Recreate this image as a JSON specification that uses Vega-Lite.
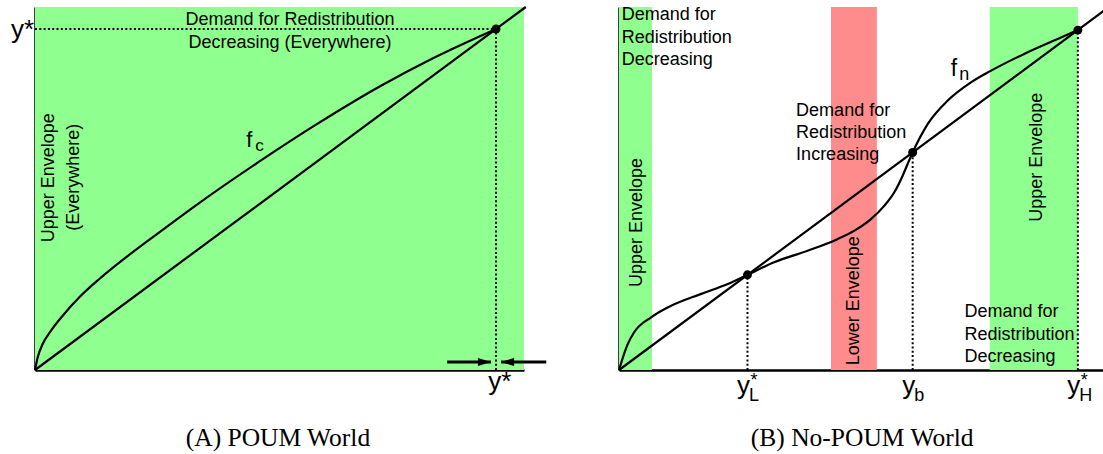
{
  "$schema": "https://vega.github.io/schema/vega-lite/v6.json",
  "background": "white",
  "autosize": {"type": "pad"},
  "padding": {"left": 10, "top": 2, "right": 0, "bottom": 0},
  "bounds": "flush",
  "spacing": 95,
  "config": {
    "view": {"stroke": null},
    "font": "Liberation Sans",
    "axis": {"labels": false, "ticks": false, "grid": false, "domainColor": "black", "domainWidth": 2.5, "zindex": 1}
  },
  "datasets": {
    "bandA": [{"x": 0, "x2": 106.07, "y": 0, "y2": 106.45}],
    "diagA": [{"x": 0, "y": 0}, {"x": 106.45, "y": 106.45}],
    "curveA": [
      {"x": 0, "y": 0}, {"x": 0.59, "y": 3.72}, {"x": 1.67, "y": 7.62}, {"x": 3.47, "y": 11.52},
      {"x": 6.01, "y": 15.92}, {"x": 9.61, "y": 21.32}, {"x": 13.95, "y": 26.69}, {"x": 19.74, "y": 33.05},
      {"x": 26.96, "y": 40.38}, {"x": 34.92, "y": 48.3}, {"x": 49.67, "y": 62.05}, {"x": 60.52, "y": 71.58},
      {"x": 75.05, "y": 83.37}, {"x": 85.9, "y": 91.14}, {"x": 96.75, "y": 98.03}, {"x": 100, "y": 100}
    ],
    "guideA": [{"x": 0, "x2": 100, "y": 100, "y2": 100}, {"x": 100, "x2": 100, "y": 0, "y2": 100}],
    "eqA": [{"x": 100, "y": 100}],
    "arrowsA": [
      {"x": 89.4, "tip": 98.9, "y": 2.35, "dir": "right"},
      {"x": 110.9, "tip": 101.1, "y": 2.35, "dir": "left"}
    ],
    "headA": [{"x": 55.3, "y": 101.2, "label": "Demand for Redistribution\nDecreasing (Everywhere)"}],
    "vertA": [{"x": 4.2, "y": 56.4, "label": "Upper Envelope"}, {"x": 9.5, "y": 56.5, "label": "(Everywhere)"}],
    "fA": [{"x": 45.8, "y": 65.3, "label": "f", "sub": "c"}],
    "ystarLeftA": [{"x": 0, "y": 100, "label": "y*"}],
    "ystarBottomA": [{"x": 100, "y": 0, "label": "y*"}],
    "capA": [{"x": 52.7, "y": 0, "label": "(A) POUM World"}],
    "bandB": [
      {"x": 0, "x2": 7.2, "y": 0, "y2": 106.8, "kind": "upper"},
      {"x": 46.2, "x2": 56.2, "y": 0, "y2": 106.8, "kind": "lower"},
      {"x": 80.8, "x2": 100, "y": 0, "y2": 106.8, "kind": "upper"}
    ],
    "diagB": [{"x": 0, "y": 0}, {"x": 105.7, "y": 105.7}],
    "curveB": [
      {"x": 0, "y": 0}, {"x": 1.9, "y": 7.6}, {"x": 3.3, "y": 11.1}, {"x": 7.0, "y": 15.5},
      {"x": 10.6, "y": 18.4}, {"x": 17.9, "y": 22.4}, {"x": 23.7, "y": 25.3}, {"x": 28, "y": 28},
      {"x": 33.8, "y": 31.7}, {"x": 41.1, "y": 35.1}, {"x": 47.6, "y": 38.5}, {"x": 51.3, "y": 41.0},
      {"x": 54.9, "y": 44.4}, {"x": 57.8, "y": 48.3}, {"x": 60.0, "y": 52.3}, {"x": 61.8, "y": 57.1},
      {"x": 62.9, "y": 60.6}, {"x": 64, "y": 64}, {"x": 67.3, "y": 72.4}, {"x": 71.6, "y": 79.2},
      {"x": 76.7, "y": 84.6}, {"x": 81.0, "y": 88.0}, {"x": 88.3, "y": 93.0}, {"x": 95.6, "y": 97.4},
      {"x": 100, "y": 100}
    ],
    "guideB": [
      {"x": 28, "x2": 28, "y": 0, "y2": 28},
      {"x": 64, "x2": 64, "y": 0, "y2": 64},
      {"x": 100, "x2": 100, "y": 0, "y2": 100}
    ],
    "eqB": [{"x": 28, "y": 28}, {"x": 64, "y": 64}, {"x": 100, "y": 100}],
    "blockB": [
      {"x": 0.6, "y": 102.9, "label": "Demand for\nRedistribution\nDecreasing"},
      {"x": 38.6, "y": 74.8, "label": "Demand for\nRedistribution\nIncreasing"},
      {"x": 75.3, "y": 15.5, "label": "Demand for\nRedistribution\nDecreasing"}
    ],
    "vertB": [
      {"x": 5.1, "y": 43.4, "label": "Upper Envelope"},
      {"x": 52.4, "y": 20.4, "label": "Lower Envelope"},
      {"x": 92.2, "y": 62.6, "label": "Upper Envelope"}
    ],
    "fB": [{"x": 72.3, "y": 86.6, "label": "f", "sub": "n"}],
    "ticksB": [
      {"x": 28, "y": 0, "main": "y", "sub": "L", "star": "*"},
      {"x": 64, "y": 0, "main": "y", "sub": "b", "star": ""},
      {"x": 100, "y": 0, "main": "y", "sub": "H", "star": "*"}
    ],
    "capB": [{"x": 53.0, "y": 0, "label": "(B) No-POUM World"}]
  },
  "hconcat": [
    {
      "width": 489,
      "height": 363,
      "encoding": {
        "x": {"field": "x", "type": "quantitative", "title": null, "scale": {"domain": [0, 106.07], "nice": false, "zero": false}},
        "y": {"field": "y", "type": "quantitative", "title": null, "scale": {"domain": [0, 106.45], "nice": false, "zero": false}}
      },
      "layer": [
        {"data": {"name": "bandA"}, "mark": {"type": "rect", "color": "#8fff8f"},
         "encoding": {"x2": {"field": "x2"}, "y2": {"field": "y2"}}},
        {"data": {"name": "guideA"}, "mark": {"type": "rule", "color": "black", "strokeWidth": 2, "strokeDash": [2, 2.3]},
         "encoding": {"x2": {"field": "x2"}, "y2": {"field": "y2"}}},
        {"data": {"name": "diagA"}, "mark": {"type": "line", "color": "black", "strokeWidth": 2.2, "clip": false}, "encoding": {}},
        {"data": {"name": "curveA"}, "mark": {"type": "line", "color": "black", "strokeWidth": 2.2, "interpolate": "monotone"}, "encoding": {}},
        {"data": {"name": "eqA"}, "mark": {"type": "point", "filled": true, "color": "black", "opacity": 1, "size": 80}},
        {"data": {"name": "arrowsA"}, "mark": {"type": "rule", "color": "black", "strokeWidth": 3},
         "encoding": {"x2": {"field": "tip"}}},
        {"data": {"name": "arrowsA"}, "mark": {"type": "point", "filled": true, "color": "black", "opacity": 1, "size": 169},
         "encoding": {
           "x": {"field": "tip", "type": "quantitative"},
           "shape": {"field": "dir", "type": "nominal", "legend": null,
                     "scale": {"domain": ["right", "left"], "range": ["M0,0L-2,-0.62L-2,0.62Z", "M0,0L2,-0.62L2,0.62Z"]}}
         }},
        {"data": {"name": "headA"}, "mark": {"type": "text", "fontSize": 18, "align": "center", "baseline": "alphabetic", "lineBreak": "\n", "lineHeight": 23, "color": "black"},
         "encoding": {"text": {"field": "label"}}},
        {"data": {"name": "vertA"}, "mark": {"type": "text", "fontSize": 18, "align": "center", "baseline": "alphabetic", "angle": 270, "color": "black"},
         "encoding": {"text": {"field": "label"}}},
        {"data": {"name": "fA"}, "mark": {"type": "text", "fontSize": 22, "align": "left", "baseline": "alphabetic", "color": "black"},
         "encoding": {"text": {"field": "label"}}},
        {"data": {"name": "fA"}, "mark": {"type": "text", "fontSize": 17, "align": "left", "baseline": "alphabetic", "dx": 9, "dy": 3.5, "color": "black"},
         "encoding": {"text": {"field": "sub"}}},
        {"data": {"name": "ystarLeftA"}, "mark": {"type": "text", "fontSize": 26, "align": "right", "baseline": "alphabetic", "dx": -1, "dy": 9.5, "color": "black"},
         "encoding": {"text": {"field": "label"}}},
        {"data": {"name": "ystarBottomA"}, "mark": {"type": "text", "fontSize": 26, "align": "center", "baseline": "alphabetic", "dx": 3.7, "dy": 20, "color": "black"},
         "encoding": {"text": {"field": "label"}}},
        {"data": {"name": "capA"}, "mark": {"type": "text", "font": "Liberation Serif", "fontSize": 25.5, "align": "center", "baseline": "alphabetic", "dy": 75.7, "color": "black"},
         "encoding": {"text": {"field": "label"}}}
      ]
    },
    {
      "width": 485,
      "height": 363,
      "encoding": {
        "x": {"field": "x", "type": "quantitative", "title": null, "scale": {"domain": [0, 105.7], "nice": false, "zero": false}},
        "y": {"field": "y", "type": "quantitative", "title": null, "scale": {"domain": [0, 106.8], "nice": false, "zero": false}}
      },
      "layer": [
        {"data": {"name": "bandB"}, "mark": {"type": "rect"},
         "encoding": {
           "x2": {"field": "x2"},
           "y2": {"field": "y2"},
           "color": {"field": "kind", "type": "nominal", "legend": null,
                     "scale": {"domain": ["upper", "lower"], "range": ["#8fff8f", "#ff8c8c"]}}
         }},
        {"data": {"name": "guideB"}, "mark": {"type": "rule", "color": "black", "strokeWidth": 2, "strokeDash": [2, 2.3]},
         "encoding": {"x2": {"field": "x2"}, "y2": {"field": "y2"}}},
        {"data": {"name": "diagB"}, "mark": {"type": "line", "color": "black", "strokeWidth": 2.2}, "encoding": {}},
        {"data": {"name": "curveB"}, "mark": {"type": "line", "color": "black", "strokeWidth": 2.2, "interpolate": "monotone"}, "encoding": {}},
        {"data": {"name": "eqB"}, "mark": {"type": "point", "filled": true, "color": "black", "opacity": 1, "size": 80}},
        {"data": {"name": "blockB"}, "mark": {"type": "text", "fontSize": 18, "align": "left", "baseline": "alphabetic", "lineBreak": "\n", "lineHeight": 22.3, "color": "black"},
         "encoding": {"text": {"field": "label"}}},
        {"data": {"name": "vertB"}, "mark": {"type": "text", "fontSize": 18, "align": "center", "baseline": "alphabetic", "angle": 270, "color": "black"},
         "encoding": {"text": {"field": "label"}}},
        {"data": {"name": "fB"}, "mark": {"type": "text", "fontSize": 23, "align": "left", "baseline": "alphabetic", "color": "black"},
         "encoding": {"text": {"field": "label"}}},
        {"data": {"name": "fB"}, "mark": {"type": "text", "fontSize": 18, "align": "left", "baseline": "alphabetic", "dx": 8.5, "dy": 4.5, "color": "black"},
         "encoding": {"text": {"field": "sub"}}},
        {"data": {"name": "ticksB"}, "mark": {"type": "text", "fontSize": 26, "align": "left", "baseline": "alphabetic", "dx": -10.5, "dy": 24, "color": "black"},
         "encoding": {"text": {"field": "main"}}},
        {"data": {"name": "ticksB"}, "mark": {"type": "text", "fontSize": 18, "align": "left", "baseline": "alphabetic", "dx": 1.5, "dy": 30.7, "color": "black"},
         "encoding": {"text": {"field": "sub"}}},
        {"data": {"name": "ticksB"}, "mark": {"type": "text", "fontSize": 18, "align": "left", "baseline": "alphabetic", "dx": 3, "dy": 15.6, "color": "black"},
         "encoding": {"text": {"field": "star"}}},
        {"data": {"name": "capB"}, "mark": {"type": "text", "font": "Liberation Serif", "fontSize": 25.5, "align": "center", "baseline": "alphabetic", "dy": 75.7, "color": "black"},
         "encoding": {"text": {"field": "label"}}}
      ]
    }
  ]
}
